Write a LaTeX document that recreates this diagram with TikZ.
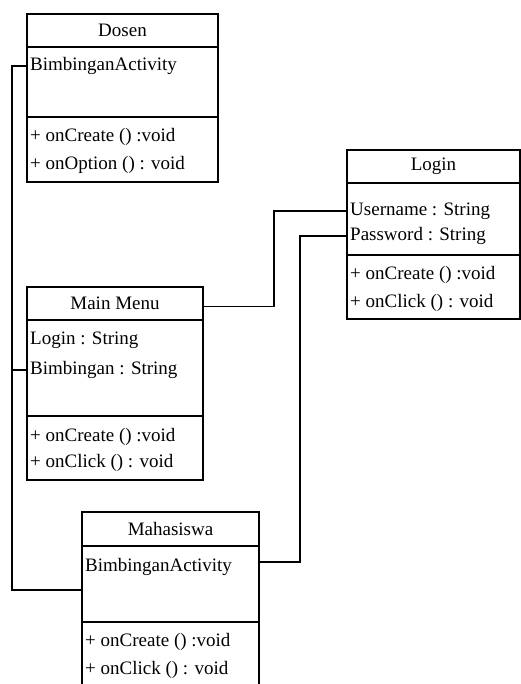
\documentclass[tikz,border=0pt]{standalone}
\usepackage{fontspec}
\setmainfont{Liberation Serif}
\usetikzlibrary{positioning}
\begin{document}
\begin{tikzpicture}[x=1pt,y=-1pt,
      hd/.style={draw,line width=1.3pt,minimum height=33pt,inner sep=0pt,outer sep=0pt,font=\fontsize{19}{22}\selectfont},
      sec/.style={draw,line width=1.3pt,inner sep=0pt,outer sep=0pt},
      t/.style={anchor=west,inner sep=0pt,font=\fontsize{19}{22}\selectfont},
      ln/.style={line width=1.3pt}]
    \useasboundingbox (0,0) rectangle (521,684);
    % Dosen
    \node[hd,minimum width=191pt,anchor=north west] (dosen) at (27,14) {Dosen};
    \node[sec,minimum width=191pt,minimum height=70pt,below=0pt of dosen] (dosen-a) {};
    \node[sec,minimum width=191pt,minimum height=65pt,below=0pt of dosen-a] (dosen-m) {};
    \node[t] (dosen-a1) at ([xshift=3pt,yshift=-19pt]dosen-a.north west) {BimbinganActivity};
    \node[t] (dosen-m1) at ([xshift=3pt,yshift=-20pt]dosen-m.north west) {+ onCreate () :void};
    \node[t] (dosen-m2) at ([xshift=3pt,yshift=-48pt]dosen-m.north west) {+ onOption () : void};
    % Login
    \node[hd,minimum width=173pt,anchor=north west] (login) at (347,150) {Login};
    \node[sec,minimum width=173pt,minimum height=72pt,below=0pt of login] (login-a) {};
    \node[sec,minimum width=173pt,minimum height=64pt,below=0pt of login-a] (login-m) {};
    \node[t] (login-a1) at ([xshift=3pt,yshift=-28pt]login-a.north west) {Username : String};
    \node[t] (login-a2) at ([xshift=3pt,yshift=-53pt]login-a.north west) {Password : String};
    \node[t] (login-m1) at ([xshift=3pt,yshift=-20pt]login-m.north west) {+ onCreate () :void};
    \node[t] (login-m2) at ([xshift=3pt,yshift=-48pt]login-m.north west) {+ onClick () : void};
    % Main Menu
    \node[hd,minimum width=176pt,anchor=north west] (mm) at (27,287) {Main Menu};
    \node[sec,minimum width=176pt,minimum height=96pt,below=0pt of mm] (mm-a) {};
    \node[sec,minimum width=176pt,minimum height=64pt,below=0pt of mm-a] (mm-m) {};
    \node[t] (mm-a1) at ([xshift=3pt,yshift=-20pt]mm-a.north west) {Login : String};
    \node[t] (mm-a2) at ([xshift=3pt,yshift=-50pt]mm-a.north west) {Bimbingan : String};
    \node[t] (mm-m1) at ([xshift=3pt,yshift=-21pt]mm-m.north west) {+ onCreate () :void};
    \node[t] (mm-m2) at ([xshift=3pt,yshift=-47pt]mm-m.north west) {+ onClick () : void};
    % Mahasiswa
    \node[hd,minimum width=177pt,minimum height=34pt,anchor=north west] (mhs) at (82,512) {Mahasiswa};
    \node[sec,minimum width=177pt,minimum height=76pt,below=0pt of mhs] (mhs-a) {};
    \node[sec,minimum width=177pt,minimum height=66pt,below=0pt of mhs-a] (mhs-m) {};
    \node[t] (mhs-a1) at ([xshift=3pt,yshift=-21pt]mhs-a.north west) {BimbinganActivity};
    \node[t] (mhs-m1) at ([xshift=3pt,yshift=-20pt]mhs-m.north west) {+ onCreate () :void};
    \node[t] (mhs-m2) at ([xshift=3pt,yshift=-48pt]mhs-m.north west) {+ onClick () : void};
    % connectors
    \coordinate (busL) at (12,0);
    \coordinate (jA) at (274,0);
    \coordinate (jB) at (300,0);
    \coordinate (mhs-in) at ([yshift=-44pt]mhs-a.north west);
    \coordinate (mhs-out) at ([yshift=-16pt]mhs-a.north east);
    \coordinate (mm-out) at ([yshift=-3pt]mm.east);
    \draw[ln] (dosen-a1.west -| dosen-a.west) -| (mhs-in -| busL) -- (mhs-in);
    \draw[ln] (mm-a2.west -| mm-a.west) -- (mm-a2.west -| busL);
    \draw[ln] (mm-out) -| (jA |- login-a1) -- (login-a1.west -| login-a.west);
    \draw[ln] (mhs-out) -| (jB |- login-a2) -- (login-a2.west -| login-a.west);
\end{tikzpicture}
\end{document}
